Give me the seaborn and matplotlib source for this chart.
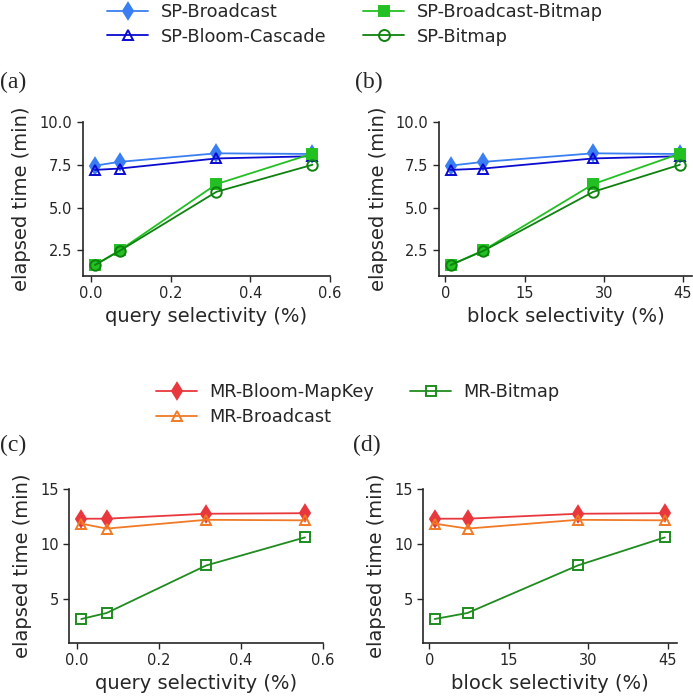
import matplotlib
matplotlib.use("Agg")
import matplotlib.pyplot as plt
import seaborn as sns
import pandas as pd

# ---- data ----
query_sel = [0.01, 0.072, 0.315, 0.556]
block_sel = [1.0, 7.2, 28.0, 44.4]

sp_names = ["SP-Broadcast", "SP-Bloom-Cascade", "SP-Broadcast-Bitmap", "SP-Bitmap"]
sp_broadcast = [7.45, 7.67, 8.17, 8.13]
sp_bloom_cascade = [7.2, 7.28, 7.87, 8.0]
sp_broadcast_bitmap = [1.64, 2.5, 6.37, 8.15]
sp_bitmap = [1.64, 2.47, 5.92, 7.5]

mr_names = ["MR-Bloom-MapKey", "MR-Broadcast", "MR-Bitmap"]
mr_bloom_mapkey = [12.3, 12.3, 12.75, 12.8]
mr_broadcast = [11.85, 11.4, 12.2, 12.15]
mr_bitmap = [3.18, 3.73, 8.05, 10.6]

sp_values = [sp_broadcast, sp_bloom_cascade, sp_broadcast_bitmap, sp_bitmap]
mr_values = [mr_bloom_mapkey, mr_broadcast, mr_bitmap]

# ---- styles ----
sp_styles = [
    dict(color="#3a7ff2", marker="d", filled=True),
    dict(color="#0a0ad0", marker="^", filled=False),
    dict(color="#22c022", marker="s", filled=True),
    dict(color="#0d820d", marker="o", filled=False),
]
mr_styles = [
    dict(color="#e8383d", marker="d", filled=True),
    dict(color="#f07a26", marker="^", filled=False),
    dict(color="#1e8c1e", marker="s", filled=False),
]

sns.set_style("ticks")
plt.rcParams["font.family"] = ["DejaVu Sans"]

W, H = 693, 697
fig = plt.figure(figsize=(W / 100, H / 100), dpi=100)


def ax_at(l, r, t, b):
    return fig.add_axes([l / W, 1 - b / H, (r - l) / W, (b - t) / H])


def draw(ax, xs, names, values, styles):
    for name, vals, st in zip(names, values, styles):
        df = pd.DataFrame({"x": xs, "y": vals})
        kw = dict(marker=st["marker"], color=st["color"], linewidth=1.3,
                  markersize=7.5 if st["marker"] != "d" else 8,
                  markeredgecolor=st["color"], markeredgewidth=1.4)
        if st["filled"]:
            kw["markerfacecolor"] = st["color"]
        else:
            kw["markerfacecolor"] = "none"
        sns.lineplot(data=df, x="x", y="y", ax=ax, label=name,
                     errorbar=None, legend=False, **kw)


def finish(ax, xlabel, xlim, xticks, xticklabels, ylim, yticks, yticklabels):
    ax.set_xlim(*xlim)
    ax.set_ylim(*ylim)
    ax.set_xticks(xticks)
    ax.set_xticklabels(xticklabels)
    ax.set_yticks(yticks)
    ax.set_yticklabels(yticklabels)
    ax.set_xlabel(xlabel, fontsize=14)
    ax.set_ylabel("elapsed time (min)", fontsize=14, labelpad=6)
    ax.tick_params(labelsize=10.5, length=4, width=1)
    for s in ["left", "bottom"]:
        ax.spines[s].set_linewidth(1.2)
    sns.despine(ax=ax)


q_ticks = [0.0, 0.2, 0.4, 0.6]
q_ticklabels = ["0.0", "0.2", "0.4", "0.6"]
b_ticks = [0, 15, 30, 45]
b_ticklabels = ["0", "15", "30", "45"]

axa = ax_at(83, 330, 122, 276)
draw(axa, query_sel, sp_names, sp_values, sp_styles)
finish(axa, "query selectivity (%)", (-0.02, 0.6), q_ticks, q_ticklabels,
       (1.0, 10.0), [2.5, 5.0, 7.5, 10.0], ["2.5", "5.0", "7.5", "10.0"])

axb = ax_at(439, 692, 122, 276)
draw(axb, block_sel, sp_names, sp_values, sp_styles)
finish(axb, "block selectivity (%)", (-1.2, 46.7), b_ticks, b_ticklabels,
       (1.0, 10.0), [2.5, 5.0, 7.5, 10.0], ["2.5", "5.0", "7.5", "10.0"])

axc = ax_at(69, 323, 489, 643)
draw(axc, query_sel, mr_names, mr_values, mr_styles)
finish(axc, "query selectivity (%)", (-0.02, 0.6), q_ticks, q_ticklabels,
       (1.0, 15.0), [5, 10, 15], ["5", "10", "15"])

axd = ax_at(423, 677, 489, 643)
draw(axd, block_sel, mr_names, mr_values, mr_styles)
finish(axd, "block selectivity (%)", (-1.2, 46.7), b_ticks, b_ticklabels,
       (1.0, 15.0), [5, 10, 15], ["5", "10", "15"])

# legends
h1, l1 = axa.get_legend_handles_labels()
fig.legend(h1, l1, loc="center", bbox_to_anchor=(355 / W, 1 - 24.5 / H),
           ncol=2, frameon=False, fontsize=12.8, handlelength=2.3,
           handletextpad=0.7, columnspacing=2.1, labelspacing=0.35,
           markerscale=1.05)
h2, l2 = axc.get_legend_handles_labels()
fig.legend(h2, l2, loc="center", bbox_to_anchor=(358 / W, 1 - 404.5 / H),
           ncol=2, frameon=False, fontsize=12.8, handlelength=2.3,
           handletextpad=0.7, columnspacing=2.0, labelspacing=0.4,
           markerscale=1.05)

serif = ["Liberation Serif", "DejaVu Serif"]
fig.text(0 / W, 1 - 82 / H, "(a)", family=serif, fontsize=17, ha="left", va="center")
fig.text(355 / W, 1 - 82 / H, "(b)", family=serif, fontsize=17, ha="left", va="center")
fig.text(0 / W, 1 - 445 / H, "(c)", family=serif, fontsize=17, ha="left", va="center")
fig.text(353 / W, 1 - 445 / H, "(d)", family=serif, fontsize=17, ha="left", va="center")

fig.savefig("out.png", dpi=100)
